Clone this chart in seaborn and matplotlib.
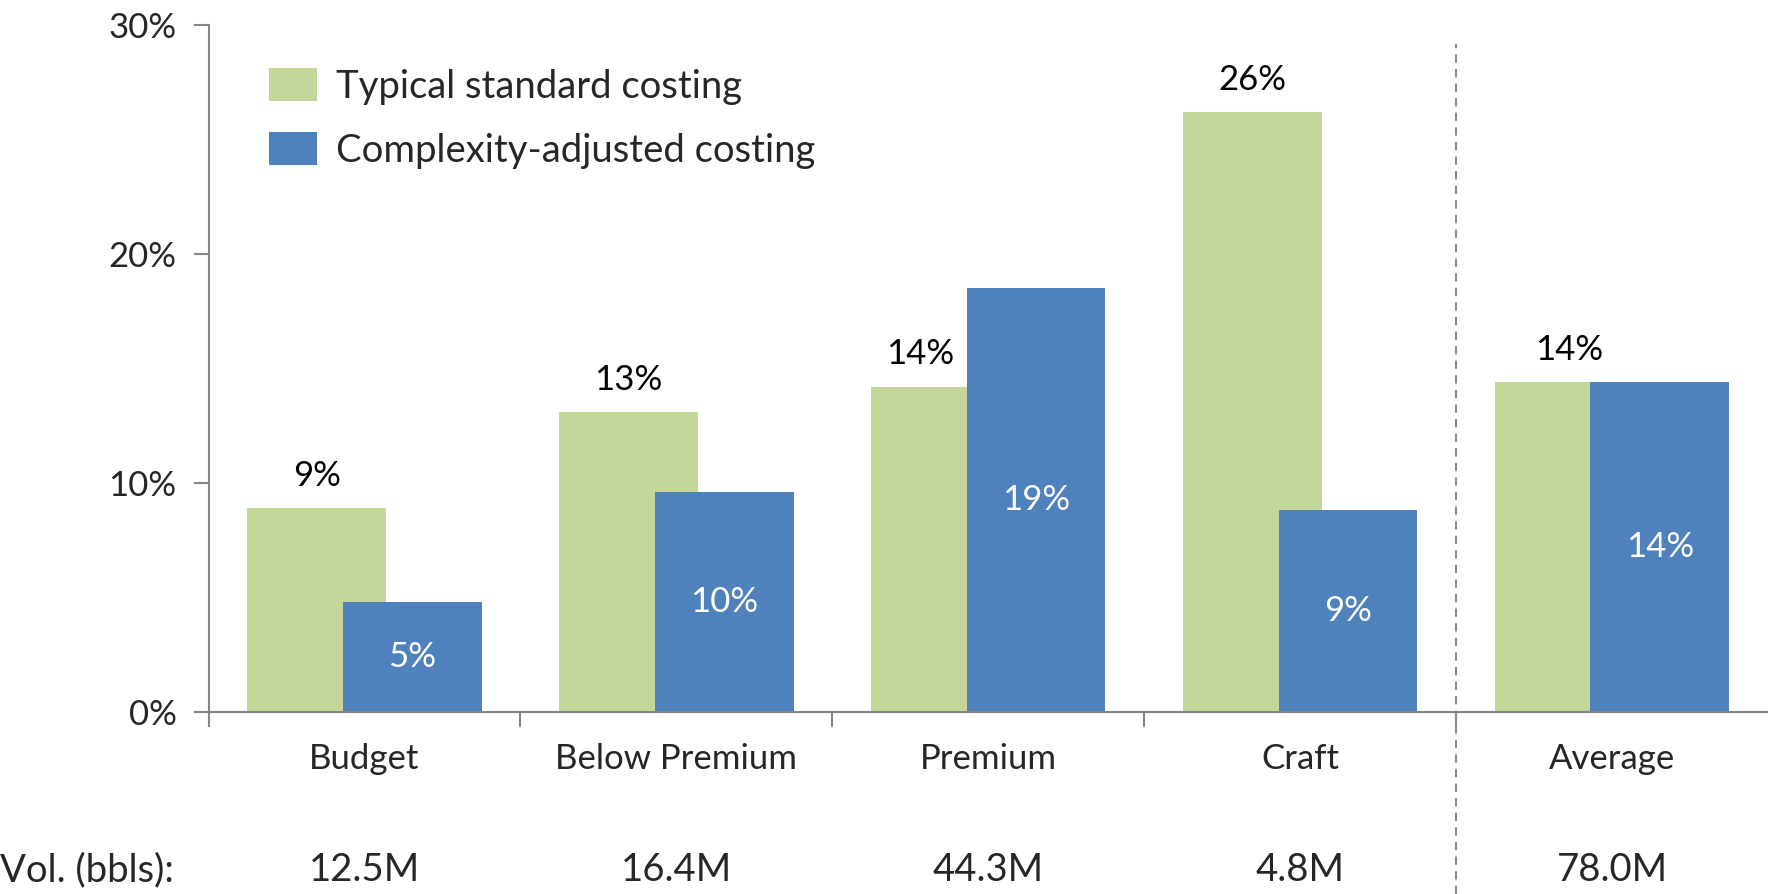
import numpy as np
import pandas as pd
import matplotlib
matplotlib.use("Agg")
import matplotlib.pyplot as plt
import matplotlib.transforms as mtransforms
import seaborn as sns
from matplotlib.patches import Patch

# Margin (%) by beer segment under two costing approaches
categories = ["Budget", "Below Premium", "Premium", "Craft", "Average"]
standard = [8.9, 13.1, 14.2, 26.2, 14.4]
complexity = [4.8, 9.6, 18.5, 8.8, 14.4]
volumes = ["12.5M", "16.4M", "44.3M", "4.8M", "78.0M"]
series_names = ["Typical standard costing", "Complexity-adjusted costing"]
yticks = [0, 10, 20, 30]

GREEN = "#C4D79B"
BLUE = "#4F81BD"
AXIS = "#868686"
NUM_SIZE = 25
WORD_SIZE = 27.5

sns.set_style("white")
plt.rcParams["font.family"] = ["Lato", "DejaVu Sans"]

fig = plt.figure(figsize=(17.68, 8.94), dpi=100)
ax = fig.add_axes([0.118, 0.2039, 0.882, 0.7685])

pos = np.arange(len(categories))
shift = 0.153
width = 0.445

df_std = pd.DataFrame({"x": pos - shift, "v": standard})
df_cx = pd.DataFrame({"x": pos + shift, "v": complexity})
sns.barplot(data=df_std, x="x", y="v", native_scale=True, width=width,
            color=GREEN, saturation=1, linewidth=0, errorbar=None, ax=ax)
sns.barplot(data=df_cx, x="x", y="v", native_scale=True, width=width,
            color=BLUE, saturation=1, linewidth=0, errorbar=None, ax=ax)

# Value labels: standard above bar (nudged left where the adjacent bar is taller),
# adjusted centred inside bar
nudge = [0, 0, -0.067, 0, 0.015]
for x, v, dx in zip(pos - shift, standard, nudge):
    ax.text(x + dx, v + 1.4, f"{int(v + 0.5)}%", ha="center", va="center",
            fontsize=NUM_SIZE, color="black")
for x, v in zip(pos + shift, complexity):
    ax.text(x, v / 2, f"{int(v + 0.5)}%", ha="center", va="center",
            fontsize=NUM_SIZE, color="white")

ax.set_xlim(-0.5, 4.5)
ax.set_ylim(0, 30)
ax.set_yticks(yticks)
ax.set_yticklabels([f"{t}%" for t in yticks])
ax.set_xlabel("")
ax.set_ylabel("")

# Ticks at group boundaries
ax.set_xticks([-0.5, 0.5, 1.5, 2.5, 3.5])
ax.set_xticklabels([])
ax.tick_params(axis="x", direction="out", length=11, width=1.5, color=AXIS,
               bottom=True)
ax.tick_params(axis="y", direction="out", length=11, width=1.5, color=AXIS,
               left=True, labelsize=NUM_SIZE, pad=12)

for side in ["top", "right"]:
    ax.spines[side].set_visible(False)
for side in ["left", "bottom"]:
    ax.spines[side].set_color(AXIS)
    ax.spines[side].set_linewidth(1.5)

# Separator between segments and the overall average
ax.axvline(3.5, ymin=-0.266, ymax=0.972, color="#8C8C8C", linestyle=(0, (4, 3)),
           linewidth=1.5, clip_on=False)

# Category names and volume row beneath the axis
trans = mtransforms.blended_transform_factory(ax.transData, fig.transFigure)
for x, name, vol in zip(pos, categories, volumes):
    ax.text(x, 0.151, name, transform=trans, ha="center", va="center",
            fontsize=NUM_SIZE)
    ax.text(x, 0.027, vol, transform=trans, ha="center", va="center",
            fontsize=WORD_SIZE)
fig.text(0.0, 0.027, "Vol. (bbls):", ha="left", va="center", fontsize=WORD_SIZE)

handles = [Patch(facecolor=GREEN, edgecolor="none"),
           Patch(facecolor=BLUE, edgecolor="none")]
ax.legend(handles, series_names, loc="upper left",
          bbox_to_anchor=(0.039, 0.937), frameon=False, fontsize=WORD_SIZE,
          handlelength=1.24, handleheight=0.95, handletextpad=0.5,
          labelspacing=0.72, borderaxespad=0, borderpad=0)

fig.savefig("out.png", dpi=100)
